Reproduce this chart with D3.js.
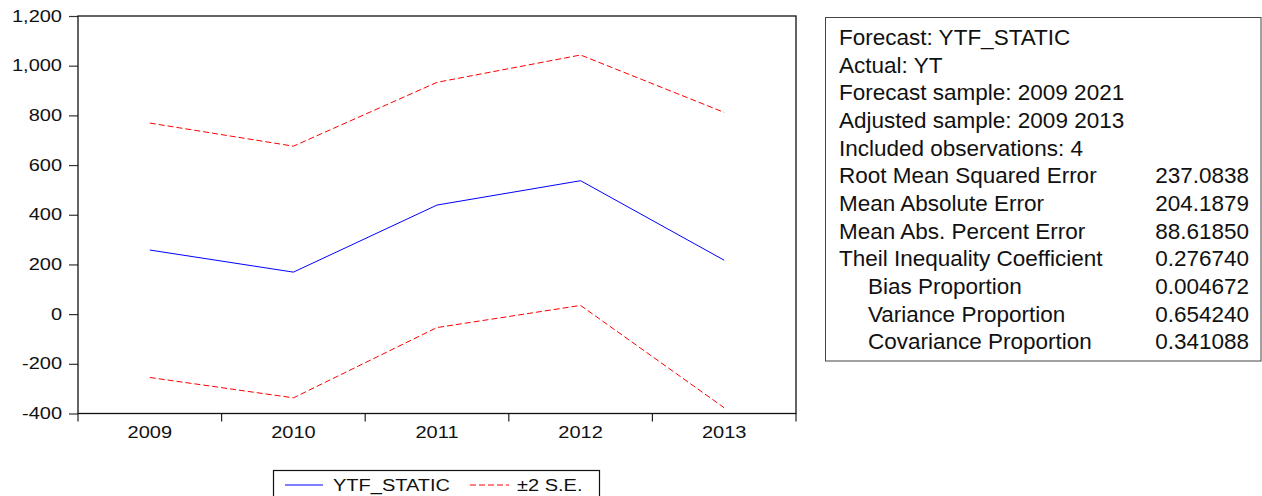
<!DOCTYPE html>
<html>
<head>
<meta charset="utf-8">
<script src="https://cdn.jsdelivr.net/npm/d3@7/dist/d3.min.js"></script>
<style>
  html, body { margin: 0; padding: 0; background: #fff; }
  svg { display: block; font-family: "Liberation Sans", Arial, sans-serif; }
</style>
</head>
<body>
<svg id="chart" width="1262" height="496"></svg>
<script>
// Forecast years and series
const years = ["2009", "2010", "2011", "2012", "2013"];
const forecast = [258, 169, 439, 537, 217];
const upperBand = [769, 676, 933, 1043, 812];
const lowerBand = [-255, -337, -54, 35, -377];
const yTicks = [-400, -200, 0, 200, 400, 600, 800, 1000, 1200];

// Forecast evaluation table
const statLabels = [
  "Forecast: YTF_STATIC",
  "Actual: YT",
  "Forecast sample: 2009 2021",
  "Adjusted sample: 2009 2013",
  "Included observations: 4",
  "Root Mean Squared Error",
  "Mean Absolute Error",
  "Mean Abs. Percent Error",
  "Theil Inequality Coefficient",
  "Bias Proportion",
  "Variance Proportion",
  "Covariance Proportion"
];
const statValues = ["", "", "", "", "", "237.0838", "204.1879", "88.61850",
  "0.276740", "0.004672", "0.654240", "0.341088"];
const statIndented = [false, false, false, false, false, false, false, false, false, true, true, true];

const legendLabels = ["YTF_STATIC", "\u00B12 S.E."];

const svg = d3.select("#chart");
const frame = { left: 78, right: 796, top: 16, bottom: 413.5 };
const sx = 1.25;          // horizontal stretch of chart lettering
const labelSize = 16;

const x = d3.scaleBand().domain(years).range([frame.left, frame.right]).padding(0);
const y = d3.scaleLinear().domain([-400, 1200]).range([frame.bottom, frame.top]);
const cx = d => x(d) + x.bandwidth() / 2;

// Y axis with comma-grouped labels and a plain hyphen for negatives
const yAxis = d3.axisLeft(y)
  .tickValues(yTicks)
  .tickSize(9)
  .tickPadding(7)
  .tickFormat(d => d3.format(",")(d).replace("\u2212", "-"));
const gy = svg.append("g").attr("transform", `translate(${frame.left},0)`).call(yAxis);
gy.select(".domain").remove();
gy.selectAll(".tick line").attr("stroke", "#333").attr("stroke-width", 1.2);
gy.selectAll(".tick text")
  .attr("font-size", labelSize)
  .attr("font-family", "Liberation Sans, Arial, sans-serif")
  .attr("fill", "#111")
  .attr("x", -16 / sx)
  .attr("transform", `scale(${sx},1)`);

// X axis: labels at category centres, tick marks at category boundaries
const xAxis = d3.axisBottom(x).tickSize(0).tickPadding(13.6);
const gx = svg.append("g").attr("transform", `translate(0,${frame.bottom})`).call(xAxis);
gx.select(".domain").remove();
gx.selectAll(".tick text")
  .attr("font-size", labelSize)
  .attr("font-family", "Liberation Sans, Arial, sans-serif")
  .attr("fill", "#111")
  .attr("transform", `scale(${sx},1)`);

const boundaries = years.map(d => x(d)).concat([x.range()[1]]);
svg.append("g").selectAll("line").data(boundaries).join("line")
  .attr("x1", d => d).attr("x2", d => d)
  .attr("y1", frame.bottom).attr("y2", frame.bottom + 8)
  .attr("stroke", "#222").attr("stroke-width", 1.2);

// Plot frame
svg.append("rect")
  .attr("x", frame.left).attr("y", frame.top)
  .attr("width", frame.right - frame.left).attr("height", frame.bottom - frame.top)
  .attr("fill", "none").attr("stroke", "#111").attr("stroke-width", 1.3);

// Series lines
const line = d3.line().x((d, i) => cx(years[i])).y(d => y(d));
svg.append("path").datum(upperBand).attr("d", line)
  .attr("fill", "none").attr("stroke", "#ff0000").attr("stroke-width", 1)
  .attr("stroke-dasharray", "6,3");
svg.append("path").datum(lowerBand).attr("d", line)
  .attr("fill", "none").attr("stroke", "#ff0000").attr("stroke-width", 1)
  .attr("stroke-dasharray", "6,3");
svg.append("path").datum(forecast).attr("d", line)
  .attr("fill", "none").attr("stroke", "#0000ff").attr("stroke-width", 1);

// Legend
const lg = svg.append("g");
lg.append("rect").attr("x", 273.5).attr("y", 470.5).attr("width", 326).attr("height", 40)
  .attr("fill", "#fff").attr("stroke", "#111").attr("stroke-width", 1.2);
lg.append("line").attr("x1", 285).attr("x2", 323).attr("y1", 485).attr("y2", 485)
  .attr("stroke", "#0000ff").attr("stroke-width", 1);
lg.append("line").attr("x1", 470).attr("x2", 509).attr("y1", 485).attr("y2", 485)
  .attr("stroke", "#ff0000").attr("stroke-width", 1).attr("stroke-dasharray", "6,3");
lg.selectAll("text").data(legendLabels).join("text")
  .attr("transform", (d, i) => `translate(${i === 0 ? 333 : 517},490.5) scale(${sx},1)`)
  .attr("font-size", labelSize).attr("fill", "#111")
  .text(d => d);

// Forecast evaluation table
const statBox = { left: 825.5, top: 17.5, right: 1261, bottom: 361 };
const rowY = d3.scaleLinear().domain([0, statLabels.length - 1]).range([45, 349.3]);
const sg = svg.append("g");
sg.append("rect")
  .attr("x", statBox.left).attr("y", statBox.top)
  .attr("width", statBox.right - statBox.left).attr("height", statBox.bottom - statBox.top)
  .attr("fill", "#fff").attr("stroke", "#444").attr("stroke-width", 1);
sg.selectAll("text.lbl").data(statLabels).join("text").attr("class", "lbl")
  .attr("x", (d, i) => statIndented[i] ? 868 : 839)
  .attr("y", (d, i) => rowY(i))
  .attr("font-size", 22.5).attr("fill", "#111")
  .text(d => d);
sg.selectAll("text.val").data(statValues).join("text").attr("class", "val")
  .attr("x", 1249)
  .attr("y", (d, i) => rowY(i))
  .attr("text-anchor", "end")
  .attr("font-size", 22.5).attr("fill", "#111")
  .text(d => d);
</script>
</body>
</html>
